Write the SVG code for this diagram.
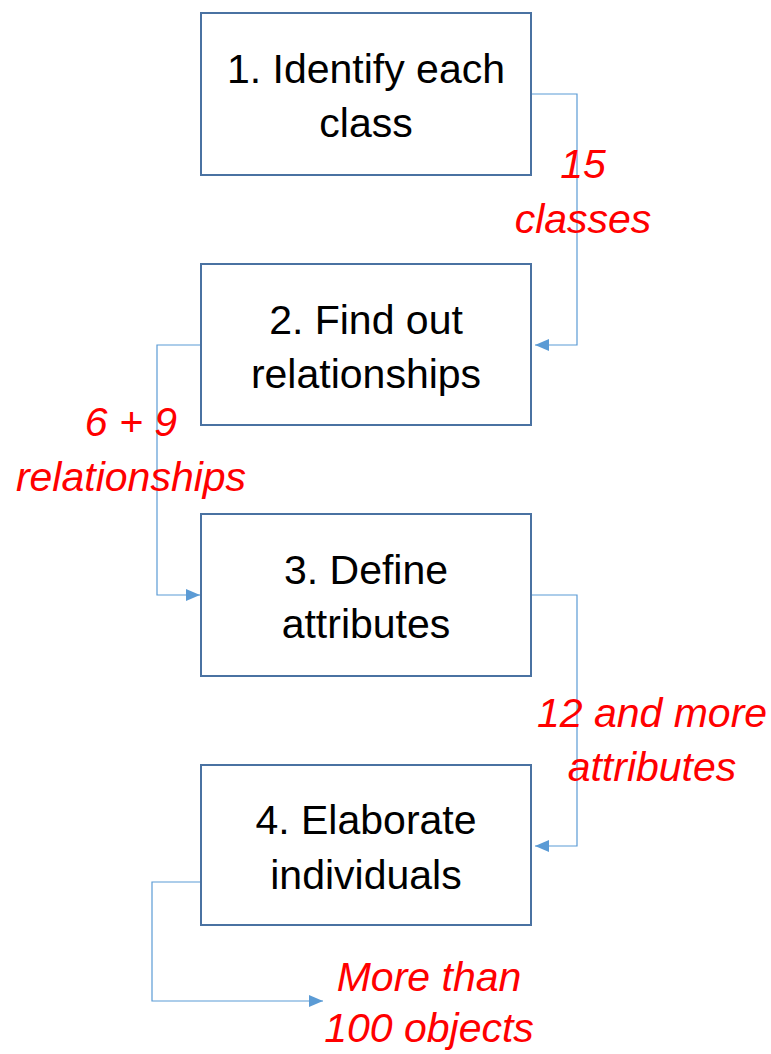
<svg xmlns="http://www.w3.org/2000/svg" width="771" height="1054" viewBox="0 0 771 1054">
<style>
.box{fill:#fff;stroke:#4a72a2;stroke-width:2}
.t{font-family:"Liberation Sans",Arial,sans-serif;font-size:41px;fill:#000;text-anchor:middle}
.r{font-family:"Liberation Sans",Arial,sans-serif;font-size:41px;font-style:italic;fill:#ff0000;text-anchor:middle}
.c{fill:none;stroke:#5b9bd5;stroke-width:1.2}
</style>
<defs>
<marker id="ah" markerWidth="14" markerHeight="12" refX="14" refY="6" orient="auto" markerUnits="userSpaceOnUse">
<path d="M0,0 L14,6 L0,12 Z" fill="#5b9bd5"/>
</marker>
</defs>
<g id="connectors">
<path class="c" d="M531,94 H577 V345 H535" marker-end="url(#ah)"/>
<path class="c" d="M200,345 H157 V595 H200" marker-end="url(#ah)"/>
<path class="c" d="M531,595 H577 V846 H535" marker-end="url(#ah)"/>
<path class="c" d="M200,882 H152 V1001 H323" marker-end="url(#ah)"/>
</g>
<g id="node1"><rect class="box" x="201" y="13" width="330" height="162"/><text class="t" x="366" y="83">1. Identify each</text><text class="t" x="366" y="137">class</text></g>
<g id="node2"><rect class="box" x="201" y="264" width="330" height="161"/><text class="t" x="366" y="334">2. Find out</text><text class="t" x="366" y="388">relationships</text></g>
<g id="node3"><rect class="box" x="201" y="514" width="330" height="162"/><text class="t" x="366" y="584">3. Define</text><text class="t" x="366" y="638">attributes</text></g>
<g id="node4"><rect class="box" x="201" y="765" width="330" height="160"/><text class="t" x="366" y="834">4. Elaborate</text><text class="t" x="366" y="889">individuals</text></g>
<g id="labels">
<text class="r" x="583" y="178">15</text><text class="r" x="583" y="233">classes</text>
<text class="r" x="131" y="436">6 + 9</text><text class="r" x="131" y="491">relationships</text>
<text class="r" x="652" y="727">12 and more</text><text class="r" x="652" y="781">attributes</text>
<text class="r" x="429" y="991">More than</text><text class="r" x="429" y="1042">100 objects</text>
</g>
</svg>
